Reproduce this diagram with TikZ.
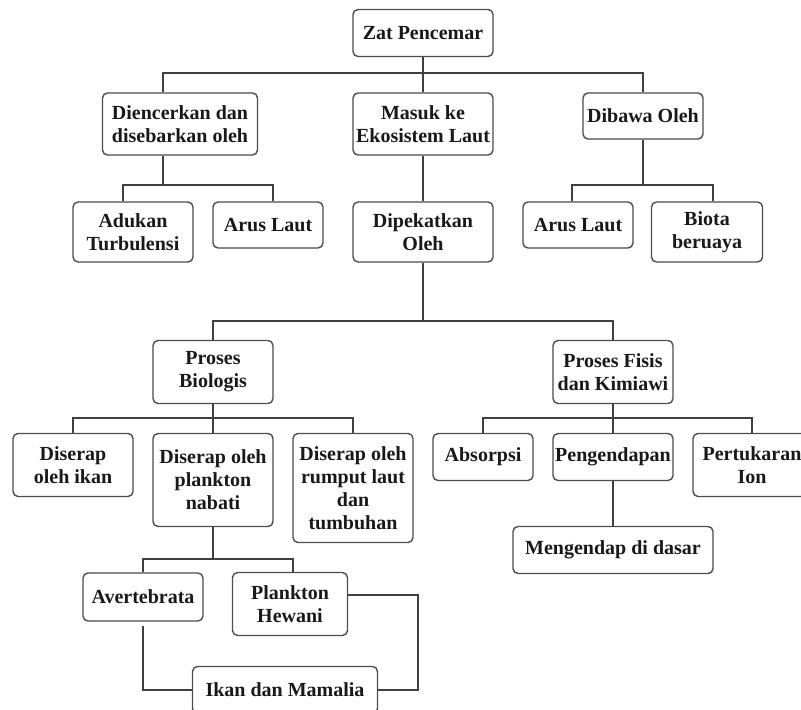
\documentclass[tikz,border=0pt]{standalone}
\usepackage{fontspec}
\setmainfont{Liberation Serif}
\begin{document}
\begin{tikzpicture}[x=0.5pt,y=-0.5pt,
  kotak/.style={draw=black!70, line width=0.7pt, rounded corners=2.5pt, align=center, inner sep=0pt,
    font=\fontsize{10}{11.5}\selectfont\bfseries, text=black!90},
  garis/.style={draw=black!75, line width=0.75pt}]
\useasboundingbox (0,0) rectangle (801,710);
% level 1
\node[kotak, minimum width=70pt, minimum height=23.5pt] (zat) at (423,33) {Zat Pencemar};
\node[kotak, minimum width=77.5pt, minimum height=31pt] (encer) at (180,124) {Diencerkan dan\\disebarkan oleh};
\node[kotak, minimum width=70pt, minimum height=31pt] (masuk) at (423,124) {Masuk ke\\Ekosistem Laut};
\node[kotak, minimum width=60pt, minimum height=23pt] (bawa) at (643,116) {Dibawa Oleh};
% level 2
\node[kotak, minimum width=60pt, minimum height=30pt] (aduk) at (133,232) {Adukan\\Turbulensi};
\node[kotak, minimum width=55pt, minimum height=23pt] (arusA) at (268,225) {Arus Laut};
\node[kotak, minimum width=70pt, minimum height=30pt] (pekat) at (423,232) {Dipekatkan\\Oleh};
\node[kotak, minimum width=55pt, minimum height=23pt] (arusB) at (578,225) {Arus Laut};
\node[kotak, minimum width=55.5pt, minimum height=30pt] (biota) at (707,232) {Biota\\beruaya};
% level 3
\node[kotak, minimum width=60pt, minimum height=31.5pt] (bio) at (213,372) {Proses\\Biologis};
\node[kotak, minimum width=60pt, minimum height=31.5pt] (fisis) at (613,372) {Proses Fisis\\dan Kimiawi};
% level 4
\node[kotak, minimum width=60pt, minimum height=31.5pt] (ikan) at (73,465) {Diserap\\oleh ikan};
\node[kotak, minimum width=60pt, minimum height=46.5pt] (nabati) at (213,480) {Diserap oleh\\plankton\\nabati};
\node[kotak, minimum width=60pt, minimum height=54.5pt] (rumput) at (353,488) {Diserap oleh\\rumput laut\\dan\\tumbuhan};
\node[kotak, minimum width=50pt, minimum height=23.5pt] (absor) at (483,457) {Absorpsi};
\node[kotak, minimum width=60pt, minimum height=23.5pt] (endap) at (613,457) {Pengendapan};
\node[kotak, minimum width=59pt, minimum height=31.5pt] (tukar) at (752,465) {Pertukaran\\Ion};
\node[kotak, minimum width=100pt, minimum height=23.5pt] (dasar) at (613,550) {Mengendap di dasar};
% level 5
\node[kotak, minimum width=60pt, minimum height=24pt] (avert) at (143,597) {Avertebrata};
\node[kotak, minimum width=57.5pt, minimum height=31.5pt] (hewani) at (290,604) {Plankton\\Hewani};
\node[kotak, minimum width=92.5pt, minimum height=23.5pt] (mamal) at (285,690) {Ikan dan Mamalia};
% titik belok
\coordinate (barA) at (423,73);
\coordinate (barB) at (163,185);
\coordinate (barC) at (643,185);
\coordinate (barD) at (423,321);
\coordinate (barE) at (213,418);
\coordinate (barF) at (613,418);
\coordinate (barG) at (213,559);
\coordinate (kanan) at (418,690);
% garis
\draw[garis] (zat) -- (masuk);
\draw[garis] ([xshift=-8.5pt]encer.north) |- (barA) -| (bawa.north);
\draw[garis] ([xshift=-8.5pt]encer.south) -- (barB);
\draw[garis] ([xshift=-5pt]aduk.north) |- (barB) -| ([xshift=2.5pt]arusA.north);
\draw[garis] (masuk) -- (pekat);
\draw[garis] (bawa) -- (barC);
\draw[garis] ([xshift=-3pt]arusB.north) |- (barC) -| ([xshift=3pt]biota.north);
\draw[garis] (pekat) -- (barD);
\draw[garis] (bio.north) |- (barD) -| (fisis.north);
\draw[garis] (bio) -- (nabati);
\draw[garis] (ikan.north) |- (barE) -| (rumput.north);
\draw[garis] (fisis) -- (endap);
\draw[garis] (absor.north) |- (barF) -| (tukar.north);
\draw[garis] (endap) -- (dasar);
\draw[garis] (nabati) -- (barG);
\draw[garis] (avert.north) |- (barG) -| ([xshift=1.5pt]hewani.north);
\draw[garis] ([yshift=-2pt]avert.south) |- (mamal.west);
\draw[garis] ([yshift=4.5pt]hewani.east) -| (kanan) -- (mamal.east);
\end{tikzpicture}
\end{document}
